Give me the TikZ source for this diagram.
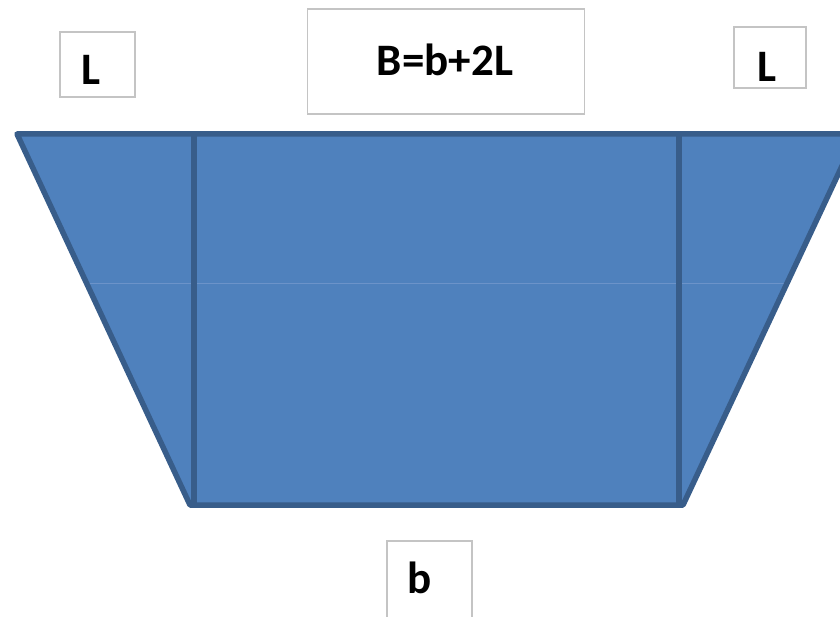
\documentclass[tikz,border=0pt]{standalone}
\usepackage{fontspec}
\setmainfont{Carlito}
\definecolor{shapefill}{HTML}{4F81BD}
\definecolor{shapeline}{HTML}{385D8A}
\definecolor{faint}{HTML}{6C93C9}
\definecolor{boxline}{HTML}{C4C4C4}
\tikzset{
  lblbox/.style={draw=boxline, line width=1.5pt, fill=white, rectangle, inner sep=0pt},
  lbltext/.style={font=\fontsize{45}{50}\selectfont\bfseries, text=black, inner sep=0pt, anchor=base},
  trap/.style={draw=shapeline, line width=5.5pt, line join=round},
  divider/.style={draw=shapeline, line width=5.5pt}
}
\begin{document}
\begin{tikzpicture}[x=1pt,y=-1pt]
\useasboundingbox (0,0) rectangle (840,617);
% trapezoid corners
\coordinate (tl) at (17,134);
\coordinate (tr) at (857,134);
\coordinate (br) at (683,505);
\coordinate (bl) at (190,505);
\coordinate (v1t) at (194,134);
\coordinate (v1b) at (194,505);
\coordinate (v2t) at (679,134);
\coordinate (v2b) at (679,505);
\coordinate (hl) at (86,283);
\coordinate (hr) at (788,283);
\fill[shapefill] (tl) -- (tr) -- (br) -- (bl) -- cycle;
\draw[faint, line width=0.8pt] (hl) -- (hr);
\draw[trap] (tl) -- (tr) -- (br) -- (bl) -- cycle;
\draw[divider] (v1t) -- (v1b);
\draw[divider] (v2t) -- (v2b);
% label boxes
\node[lblbox, minimum width=75pt, minimum height=65pt] (lbox) at (97.5,64.5) {};
\node[lbltext] (ltext) at (91.5,85) {L};
\node[lblbox, minimum width=277pt, minimum height=105pt] (bbox) at (446,61.5) {};
\node[lbltext] (btext) at (445,76) {B=b+2L};
\node[lblbox, minimum width=72pt, minimum height=61pt] (rbox) at (770,57.5) {};
\node[lbltext] (rtext) at (767,82) {L};
\node[lblbox, minimum width=85pt, minimum height=90pt] (sbox) at (429.5,586) {};
\node[lbltext] (stext) at (420,593) {b};
\end{tikzpicture}
\end{document}
